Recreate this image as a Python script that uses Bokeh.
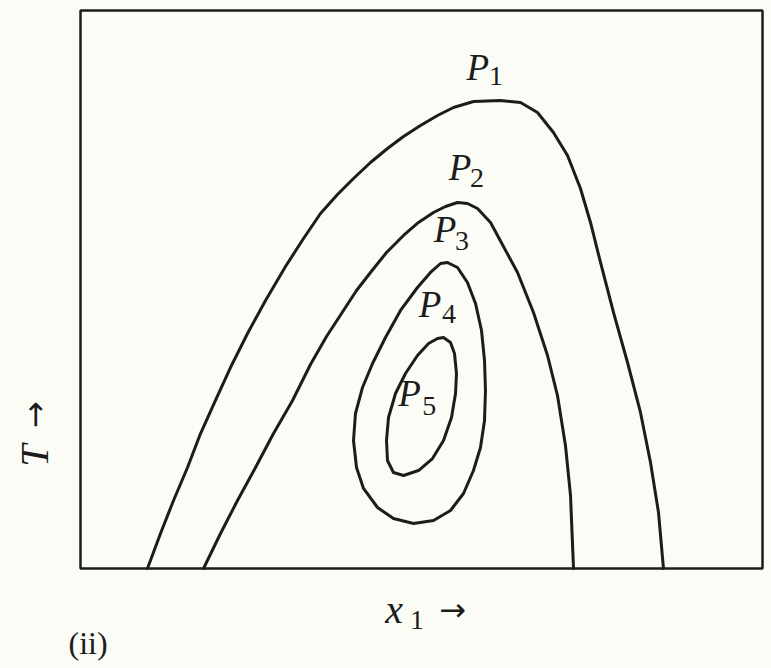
from bokeh.plotting import figure
from bokeh.models import Range1d, Label
from bokeh.embed import file_html
from bokeh.resources import INLINE

# Isobars of a binary system, T against mole fraction x1 (schematic)
p1_x = [0.0982, 0.1173, 0.1364, 0.1569, 0.1760, 0.1979, 0.2199, 0.2449, 0.2713, 0.3006,
        0.3270, 0.3519, 0.3768, 0.4003, 0.4252, 0.4501, 0.4736, 0.4985, 0.5235, 0.5469,
        0.5762, 0.6158, 0.6452, 0.6701, 0.6935, 0.7141, 0.7331, 0.7478, 0.7625, 0.7815,
        0.8021, 0.8211, 0.8358, 0.8475, 0.8548]
p1_t = [0.0, 6.27, 12.19, 18.10, 24.19, 30.11, 36.02, 42.11, 48.03, 54.12,
        59.14, 63.62, 67.03, 69.89, 72.76, 75.27, 77.42, 79.39, 81.18, 82.62,
        83.69, 83.87, 83.51, 81.72, 78.14, 74.01, 68.10, 62.01, 54.84, 45.88,
        36.92, 27.96, 19.00, 10.04, 0.0]

p2_x = [0.1804, 0.2053, 0.2302, 0.2566, 0.2830, 0.3109, 0.3372, 0.3607, 0.3856, 0.4047,
        0.4252, 0.4487, 0.4736, 0.4956, 0.5176, 0.5352, 0.5528, 0.5674, 0.5821, 0.6012,
        0.6202, 0.6408, 0.6642, 0.6848, 0.6994, 0.7111, 0.7185, 0.7229]
p2_t = [0.0, 6.27, 12.19, 18.10, 24.19, 30.11, 36.56, 41.58, 46.24, 49.82,
        53.05, 56.63, 59.68, 62.01, 63.80, 64.87, 65.59, 65.41, 64.52, 62.01,
        57.71, 53.05, 45.88, 38.17, 31.00, 22.04, 13.08, 0.0]

p3_x = [0.5381, 0.5528, 0.5674, 0.5792, 0.5880, 0.5924, 0.5938, 0.5924, 0.5865, 0.5762,
        0.5616, 0.5425, 0.5176, 0.4883, 0.4589, 0.4355, 0.4150, 0.4047, 0.4003, 0.4032,
        0.4135, 0.4282, 0.4472, 0.4692, 0.4941, 0.5132, 0.5279, 0.5381]
p3_t = [54.84, 53.94, 51.25, 47.49, 42.65, 37.28, 31.90, 26.52, 21.68, 17.56,
        13.44, 10.39, 8.60, 8.06, 8.96, 10.93, 14.34, 18.10, 22.94, 27.78,
        32.44, 36.74, 41.40, 46.24, 50.36, 53.05, 54.66, 54.84]

p4_x = [0.5323, 0.5425, 0.5484, 0.5513, 0.5499, 0.5440, 0.5323, 0.5161, 0.4956, 0.4736,
        0.4589, 0.4501, 0.4487, 0.4516, 0.4619, 0.4765, 0.4941, 0.5103, 0.5235, 0.5323]
p4_t = [41.40, 40.50, 38.53, 34.95, 31.36, 27.06, 22.94, 19.71, 17.56, 16.67,
        17.20, 19.35, 22.94, 27.06, 31.36, 34.95, 38.17, 40.32, 41.22, 41.40]

curves_x = [p1_x, p2_x, p3_x, p4_x]
curves_t = [p1_t, p2_t, p3_t, p4_t]

# Plot box: x1 from 0 to 1, T from 0 to 100
box_x = [0.0, 1.0]
box_t = [0.0, 100.0]

# Curve labels: subscript, position of the italic P, position of its subscript digit
label_sub = ["1", "2", "3", "4", "5"]
label_px = [0.566, 0.540, 0.518, 0.496, 0.466]
label_pt = [89.7, 71.8, 60.8, 47.4, 31.3]
label_dx = [0.599, 0.571, 0.549, 0.530, 0.501]
label_dt = [88.3, 70.0, 58.7, 45.6, 29.1]

BG = "#fcfcf7"
INK = "#1c1c1c"
SERIF = "Liberation Serif"
ARROW_FONT = "DejaVu Sans"

p = figure(width=771, height=668, output_backend="svg", toolbar_location=None,
           x_range=Range1d(-0.1173, 1.0132), y_range=Range1d(-17.92, 101.79),
           x_axis_type=None, y_axis_type=None, min_border=0)
p.background_fill_color = BG
p.border_fill_color = BG
p.outline_line_color = None
p.grid.visible = False

p.quad(left=box_x[0], right=box_x[1], bottom=box_t[0], top=box_t[1],
       fill_color=None, line_color=INK, line_width=2.5)

for cx, ct in zip(curves_x, curves_t):
    p.line(cx, ct, line_color=INK, line_width=3, line_join="round", line_cap="round")

for sub, px, pt, dx, dt in zip(label_sub, label_px, label_pt, label_dx, label_dt):
    p.add_layout(Label(x=px, y=pt, text="P", text_font=SERIF, text_font_style="italic",
                       text_font_size="37px", text_color=INK,
                       text_align="left", text_baseline="alphabetic"))
    p.add_layout(Label(x=dx, y=dt, text=sub, text_font=SERIF,
                       text_font_size="28px", text_color=INK,
                       text_align="left", text_baseline="alphabetic"))

# Axis captions below and left of the box
p.add_layout(Label(x=0.447, y=-7.3, text="x", text_font=SERIF, text_font_style="italic",
                   text_font_size="40px", text_color=INK,
                   text_align="left", text_baseline="alphabetic"))
p.add_layout(Label(x=0.483, y=-9.3, text="1", text_font=SERIF,
                   text_font_size="28px", text_color=INK,
                   text_align="left", text_baseline="alphabetic"))
p.add_layout(Label(x=0.526, y=-7.35, text="→", text_font=ARROW_FONT,
                   text_font_size="32px", text_color=INK,
                   text_align="left", text_baseline="middle"))

p.add_layout(Label(x=-0.0674, y=20.25, text="T", text_font=SERIF, text_font_style="italic",
                   text_font_size="40px", text_color=INK, angle=1.5708,
                   text_align="center", text_baseline="middle"))
p.add_layout(Label(x=-0.0674, y=27.6, text="→", text_font=ARROW_FONT,
                   text_font_size="32px", text_color=INK, angle=1.5708,
                   text_align="center", text_baseline="middle"))

p.add_layout(Label(x=-0.0176, y=-13.35, text="(ii)", text_font=SERIF,
                   text_font_size="32px", text_color=INK,
                   text_align="left", text_baseline="alphabetic"))

open("out.html", "w").write(file_html(p, INLINE))
